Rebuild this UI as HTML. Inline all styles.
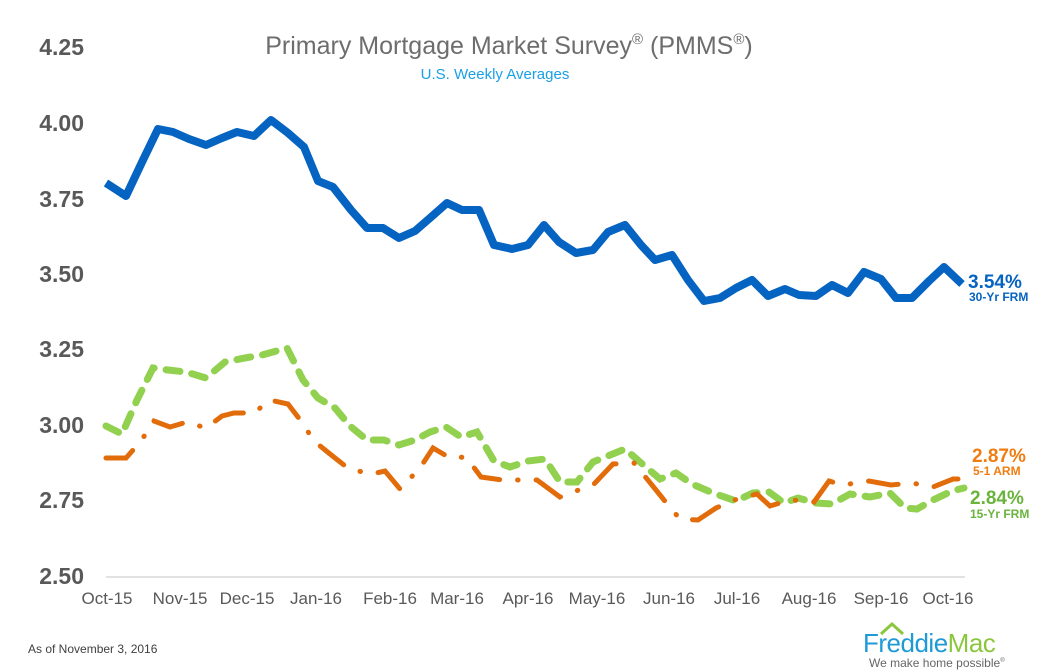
<!DOCTYPE html>
<html><head><meta charset="utf-8"><style>
html,body{margin:0;padding:0;background:#fff;width:1058px;height:672px;overflow:hidden}
svg{display:block;font-family:"Liberation Sans",Arial,sans-serif}
</style></head><body>
<svg width="1058" height="672" viewBox="0 0 1058 672">
<text x="509" y="54" text-anchor="middle" font-size="25" fill="#6d6d6d">Primary Mortgage Market Survey<tspan font-size="15" dy="-10">®</tspan><tspan dy="10"> (PMMS</tspan><tspan font-size="15" dy="-10">®</tspan><tspan dy="10">)</tspan></text>
<text x="495" y="79" text-anchor="middle" font-size="15" fill="#1aa0e6">U.S. Weekly Averages</text>
<g font-size="23" font-weight="bold" fill="#595959" text-anchor="end">
<text x="84" y="55">4.25</text><text x="84" y="131">4.00</text><text x="84" y="207">3.75</text><text x="84" y="282">3.50</text><text x="84" y="357">3.25</text><text x="84" y="433">3.00</text><text x="84" y="508">2.75</text><text x="84" y="584">2.50</text>
</g>
<line x1="106" y1="577" x2="965" y2="577" stroke="#d9d9d9" stroke-width="1.5"/>
<g font-size="17" fill="#595959" text-anchor="middle">
<text x="107" y="604">Oct-15</text><text x="180" y="604">Nov-15</text><text x="247" y="604">Dec-15</text><text x="316" y="604">Jan-16</text><text x="390" y="604">Feb-16</text><text x="457" y="604">Mar-16</text><text x="528" y="604">Apr-16</text><text x="597" y="604">May-16</text><text x="669" y="604">Jun-16</text><text x="737" y="604">Jul-16</text><text x="809" y="604">Aug-16</text><text x="881" y="604">Sep-16</text><text x="948" y="604">Oct-16</text>
</g>
<polyline fill="none" stroke="#92d050" stroke-width="7" stroke-linecap="round" stroke-dasharray="14 12" points="106,426 122,434 137,400 153,368 168,370 186,372 206,378 225,362 245,358 262,355 287,348 303,380 318,398 335,408 350,426 367,440 384,440 399,445 415,440 430,432 446,427 461,437 477,432 494,461 510,467 528,461 545,459 560,482 577,482 593,462 625,449 640,462 660,479 676,473 692,484 713,493 736,501 753,493 769,492 784,503 798,498 816,503 832,504 850,494 870,497 890,493 905,508 917,509 933,500 952,491 964,488"/>
<polyline fill="none" stroke="#e36c0a" stroke-width="5" stroke-linecap="round" stroke-dasharray="30 18 0.5 18" points="106,458 126,458 141,441 154,421 170,427 187,422 206,428 222,416 234,413 254,413 270,400 288,404 301,421 314,441 330,454 349,469 372,474 385,471 400,489 420,468 433,448 450,458 466,457 481,477 502,480 520,480 537,480 560,497 576,491 594,484 613,464 634,463 656,490 668,505 680,519 698,520 716,508 737,499 757,494 770,506 790,500 810,501 814,502 829,481 843,485 869,481 891,485 912,483 933,487 953,479 958,479"/>
<polyline fill="none" stroke="#0563c1" stroke-width="8" stroke-linejoin="round" points="106,183 126,196 143,160 158,129 173,132 189,139 206,145 222,138 237,132 254,136 271,120 288,133 304,147 318,181 333,187 351,210 367,228 383,228 399,238 415,231 430,218 447,203 462,210 479,210 494,245 512,249 528,245 544,225 559,242 576,253 593,250 608,232 625,225 641,245 655,260 672,255 688,280 704,301 720,298 736,288 752,280 768,296 785,289 799,295 816,296 832,285 848,293 864,272 881,279 896,298 912,298 929,281 944,267 962,284"/>
<g font-weight="bold">
<text x="968" y="288" font-size="19" fill="#0563c1">3.54%</text>
<text x="969" y="301" font-size="12" fill="#0563c1">30-Yr FRM</text>
<text x="972" y="462" font-size="19" fill="#f07d12">2.87%</text>
<text x="973" y="475" font-size="12" fill="#f07d12">5-1 ARM</text>
<text x="970" y="504" font-size="19" fill="#6ab43e">2.84%</text>
<text x="970" y="518" font-size="12" fill="#6ab43e">15-Yr FRM</text>
</g>
<text x="28" y="653" font-size="12" fill="#404040">As of November 3, 2016</text>
<polyline points="881,634 892,624 903,634" fill="none" stroke="#8cc63f" stroke-width="3"/>
<text x="863" y="652" font-size="26" fill="#1e9ad6" letter-spacing="-0.5">Freddie<tspan fill="#8cc63f">Mac</tspan></text>
<text x="869" y="667" font-size="12" fill="#666">We make home possible<tspan font-size="6" dy="-5">®</tspan></text>
</svg>
</body></html>
